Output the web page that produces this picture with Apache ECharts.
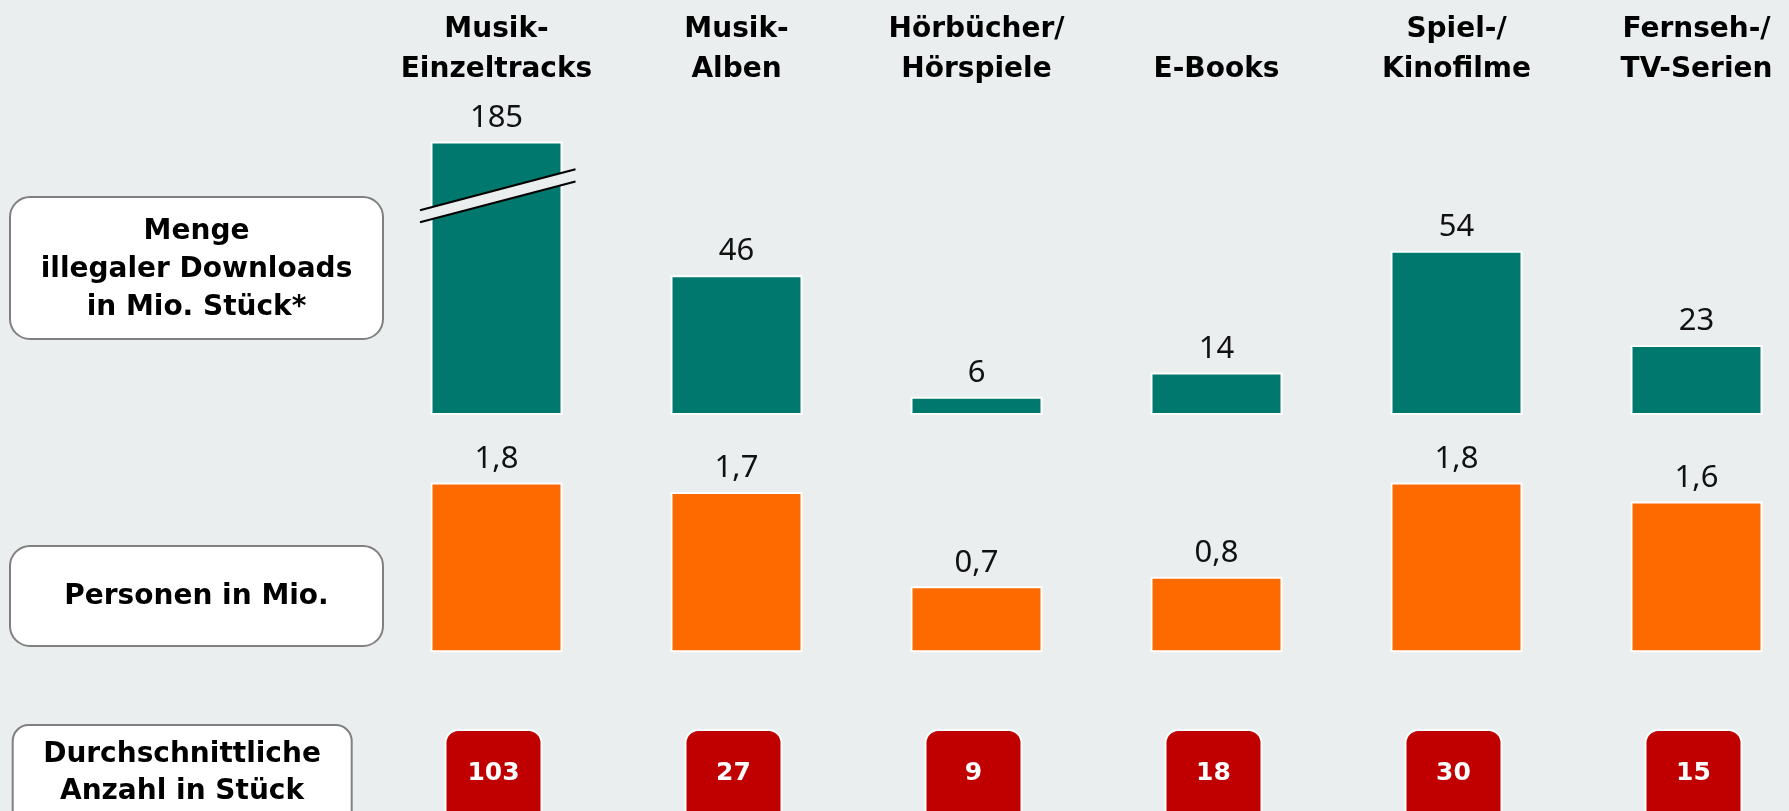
<!DOCTYPE html>
<html><head><meta charset="utf-8">
<script src="https://cdn.jsdelivr.net/npm/echarts@6/dist/echarts.min.js"></script>
<style>html,body{margin:0;padding:0;background:#EAEEEF}#c{width:1789px;height:811px}</style>
</head><body><div id="c"></div>
<script>
const categories = ['Musik-\nEinzeltracks', 'Musik-\nAlben', 'Hörbücher/\nHörspiele', 'E-Books', 'Spiel-/\nKinofilme', 'Fernseh-/\nTV-Serien'];
const downloads = [185, 46, 6, 14, 54, 23];          // Mio. Stück
const persons = [1.8, 1.7, 0.7, 0.8, 1.8, 1.6];      // Mio. Personen
const avgCount = [103, 27, 9, 18, 30, 15];           // Stück
const rowLabels = ['Menge\nillegaler Downloads\nin Mio. Stück*', 'Personen in Mio.', 'Durchschnittliche\nAnzahl in Stück'];
const breakRange = [70, 169];

const BG = '#EAEEEF';
const GREEN = '#00786E';
const ORANGE = '#FF6A00';
const RED = '#C00000';
const chart = echarts.init(document.getElementById('c'), null, {renderer: 'canvas'});

const boxStyle = {fill: '#fff', stroke: '#808080', lineWidth: 2};
const boxText = (x, y, text, lh) => ({
  type: 'text', x: x, y: y, z: 10,
  style: {text: text, fill: '#000', fontFamily: 'DejaVu Sans', fontWeight: 'bold', fontSize: 28,
          lineHeight: lh, align: 'center', verticalAlign: 'middle'}
});

const GL = 496.5, GW = 1200;
const option = {
  backgroundColor: BG,
  animation: false,
  grid: [
    {left: GL, width: GW, top: 126.2, height: 288.8},
    {left: GL, width: GW, top: 463.7, height: 188.6},
    {left: GL, width: GW, top: 729, height: 82}
  ],
  xAxis: [
    {type: 'category', gridIndex: 0, data: categories, position: 'top', boundaryGap: false,
     axisLine: {show: false}, axisTick: {show: false}, splitLine: {show: false},
     axisLabel: {interval: 0, margin: 36, fontFamily: 'DejaVu Sans', fontWeight: 'bold', fontSize: 28, lineHeight: 40, color: '#000'}},
    {type: 'category', gridIndex: 1, data: categories, boundaryGap: false, show: false},
    {type: 'category', gridIndex: 2, data: categories, boundaryGap: false, show: false}
  ],
  yAxis: [
    {type: 'value', gridIndex: 0, min: 0, max: 190, show: false,
     breaks: [{start: breakRange[0], end: breakRange[1], gap: 4}],
     breakArea: {show: false}},
    {type: 'value', gridIndex: 1, min: 0, max: 2, show: false},
    {type: 'value', gridIndex: 2, min: -33, max: 49, show: false}
  ],
  series: [
    {type: 'bar', xAxisIndex: 0, yAxisIndex: 0, data: downloads, barWidth: 132, clip: false,
     itemStyle: {color: GREEN, borderColor: '#fff', borderWidth: 2},
     label: {show: true, position: 'top', distance: 8, fontFamily: 'Noto Sans', fontSize: 31, color: '#111'}},
    {type: 'custom', xAxisIndex: 0, yAxisIndex: 0, z: 5, silent: true, clip: false,
     data: [[0, breakRange[0], breakRange[1]]],
     renderItem: function (params, api) {
       const pb = api.coord([api.value(0), api.value(1)]);
       const pt = api.coord([api.value(0), api.value(2)]);
       const cx = pb[0];
       const k = 0.263, dl = 76.5, dr = 79;
       const yb = pb[1], yt = pt[1];
       const x1 = cx - dl, x2 = cx + dr;
       return {type: 'group', children: [
         {type: 'polygon', shape: {points: [[x1, yt + k * dl], [x2, yt - k * dr], [x2, yb - k * dr], [x1, yb + k * dl]]},
          style: {fill: BG}},
         {type: 'line', shape: {x1: x1, y1: yt + k * dl, x2: x2, y2: yt - k * dr}, style: {stroke: '#000', lineWidth: 2}},
         {type: 'line', shape: {x1: x1, y1: yb + k * dl, x2: x2, y2: yb - k * dr}, style: {stroke: '#000', lineWidth: 2}}
       ]};
     }},
    {type: 'bar', xAxisIndex: 1, yAxisIndex: 1, data: persons, barWidth: 132, clip: false,
     itemStyle: {color: ORANGE, borderColor: '#fff', borderWidth: 2},
     label: {show: true, position: 'top', distance: 8, fontFamily: 'Noto Sans', fontSize: 31, color: '#111',
             formatter: p => String(p.value).replace('.', ',')}},
    {type: 'scatter', xAxisIndex: 2, yAxisIndex: 2, clip: false,
     data: avgCount.map((v, i) => [i, 0, v]),
     encode: {x: 0, y: 1},
     symbol: 'path://M13,0H83A13,13 0 0 1 96,13V83A13,13 0 0 1 83,96H13A13,13 0 0 1 0,83V13A13,13 0 0 1 13,0Z',
     symbolSize: [96, 96],
     symbolOffset: [-3, 0],
     itemStyle: {color: RED, borderColor: '#fff', borderWidth: 2, opacity: 1},
     label: {show: true, position: 'inside', offset: [0, -5], color: '#fff', fontFamily: 'DejaVu Sans', fontWeight: 'bold', fontSize: 25,
             formatter: p => String(p.value[2])}}
  ],
  graphic: [
    {type: 'rect', shape: {x: 10, y: 197, width: 373, height: 142, r: 20}, style: boxStyle, z: 9},
    boxText(196.5, 270, rowLabels[0], 38),
    {type: 'rect', shape: {x: 10, y: 546, width: 373, height: 100, r: 20}, style: boxStyle, z: 9},
    boxText(196.5, 597, rowLabels[1], 38),
    {type: 'rect', shape: {x: 12.7, y: 725, width: 339, height: 120, r: 16}, style: boxStyle, z: 9},
    boxText(182, 773, rowLabels[2], 37)
  ]
};
chart.setOption(option);
</script>
</body></html>
